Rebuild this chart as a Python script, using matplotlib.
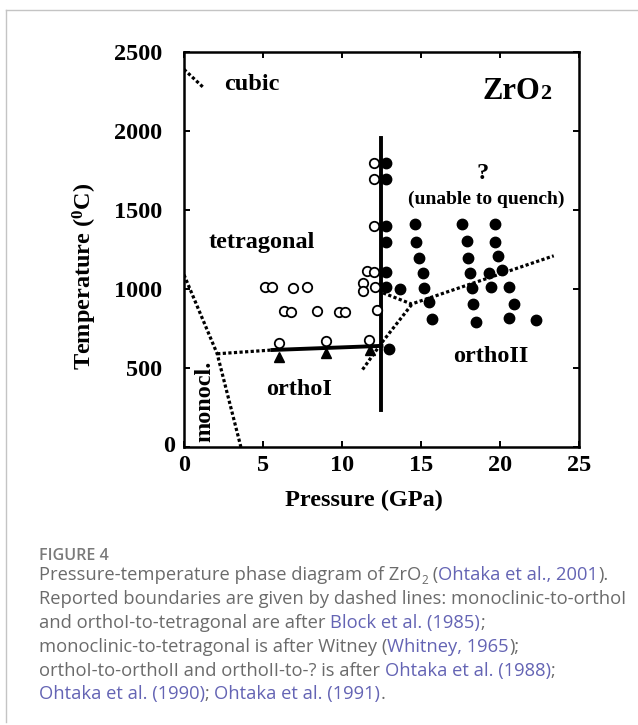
import matplotlib
matplotlib.use('Agg')
import matplotlib.pyplot as plt
from matplotlib.lines import Line2D
from matplotlib.transforms import ScaledTranslation

# ---------------- data ----------------
open_P = [5.1, 5.6, 6.9, 7.8, 6.3, 6.8, 8.4, 9.8, 10.2, 6.0, 9.0, 11.7,
          11.3, 11.3, 12.1, 12.2, 11.6, 12.0, 12.0, 12.0, 12.0]
open_T = [1013, 1013, 1006, 1013, 861, 854, 861, 854, 854, 658, 671, 677,
          1038, 987, 1013, 867, 1114, 1108, 1797, 1696, 1399]

filled_P = [12.8, 12.8, 12.8, 12.8, 12.8, 12.8, 13.0, 13.7,
            14.6, 14.7, 14.9, 15.1, 15.2, 15.5, 15.7,
            17.6, 17.9, 18.0, 18.1, 18.2, 18.3, 18.5,
            19.7, 19.7, 19.9, 19.3, 20.1, 19.4, 20.6, 20.9, 20.6, 22.3]
filled_T = [1797, 1696, 1400, 1297, 1110, 1010, 620, 1003,
            1411, 1297, 1196, 1101, 1006, 918, 810,
            1411, 1304, 1196, 1101, 1006, 905, 791,
            1411, 1297, 1209, 1101, 1120, 1013, 1013, 905, 816, 804]

tri_P = [6.0, 9.0, 11.8]
tri_T = [570, 595, 614]

# solid boundaries
ortho1_tet_P = [5.6, 12.5]
ortho1_tet_T = [614, 640]
vert_P = [12.5, 12.5]
vert_T = [234, 1955]

# dotted (reported) boundaries
cubic_P = [0.0, 1.2]
cubic_T = [2390, 2278]
mono_tet_P = [0.0, 2.1, 3.6]
mono_tet_T = [1090, 590, 0]
mono_o1_P = [2.1, 5.6]
mono_o1_T = [590, 614]
o1_o2_P = [11.3, 12.5, 14.4]
o1_o2_T = [490, 658, 900]
o2_q_P = [12.6, 14.4, 23.4]
o2_q_T = [975, 905, 1210]

x_ticks = [0, 5, 10, 15, 20, 25]
y_ticks = [0, 500, 1000, 1500, 2000, 2500]

phase_labels = ["cubic", "tetragonal", "orthoI", "orthoII", "monocl."]
phase_P = [4.3, 4.95, 7.3, 19.4, 1.33]
phase_T = [2297, 1297, 361, 570, 290]

# ---------------- style ----------------
plt.rcParams['font.family'] = ['Liberation Serif', 'DejaVu Serif']
plt.rcParams['font.weight'] = 'bold'
plt.rcParams['mathtext.fontset'] = 'custom'
plt.rcParams['mathtext.rm'] = 'Liberation Serif:bold'
plt.rcParams['mathtext.bf'] = 'Liberation Serif:bold'
plt.rcParams['mathtext.it'] = 'Liberation Serif:bold'

W, H = 638, 725
fig = plt.figure(figsize=(W / 100, H / 100), dpi=100)
ax = fig.add_axes([184 / W, 1 - 447 / H, 395 / W, 395 / H])

FS = 17.5
dot = dict(color='black', lw=2.3, linestyle=(0, (1, 0.75)), dash_capstyle='butt')
for px, ty in [(cubic_P, cubic_T), (mono_tet_P, mono_tet_T), (mono_o1_P, mono_o1_T),
               (o1_o2_P, o1_o2_T), (o2_q_P, o2_q_T)]:
    ax.plot(px, ty, **dot, zorder=2)

ax.plot(ortho1_tet_P, ortho1_tet_T, color='black', lw=2.8, zorder=3)
ax.plot(vert_P, vert_T, color='black', lw=2.8, zorder=3)

ax.plot(open_P, open_T, 'o', ms=6.8, mfc='white', mec='black', mew=1.3, ls='none', zorder=4)
ax.plot(filled_P, filled_T, 'o', ms=7.5, color='black', ls='none', zorder=4)
ax.plot(tri_P, tri_T, '^', ms=7, color='black', ls='none', zorder=4)

ax.set_xlim(0, 25)
ax.set_ylim(0, 2500)
ax.set_xticks(x_ticks)
ax.set_yticks(y_ticks)
ax.set_xticklabels([str(v) for v in x_ticks])
ax.set_yticklabels([str(v) for v in y_ticks])
ax.tick_params(direction='in', length=4.5, width=1.4, labelsize=FS, top=True, right=True,
               labeltop=False, labelright=False)
ax.tick_params(axis='y', pad=16)
ax.tick_params(axis='x', pad=5.5)
for s in ax.spines.values():
    s.set_linewidth(1.8)
# y=0 label sits closer to the axis in the original
lbl0 = ax.get_yticklabels()[0]
lbl0.set_transform(lbl0.get_transform() + ScaledTranslation(0.13, 0.03, fig.dpi_scale_trans))

ax.set_xlabel("Pressure (GPa)", fontsize=FS, fontweight='bold', va='center')
ax.xaxis.set_label_coords((364 - 184) / 395, (447 - 500) / 395)
ax.set_ylabel("Temperature ($^{0}$C)", fontsize=FS, fontweight='bold', va='center')
ax.yaxis.set_label_coords((85 - 184) / 395, (447 - 276) / 395)

for lab, px, ty in zip(phase_labels, phase_P, phase_T):
    rot = 90 if lab == "monocl." else 0
    ax.text(px, ty, lab, fontsize=FS, fontweight='bold', ha='center', va='center',
            rotation=rot)
ax.text(18.9, 1734, "?", fontsize=FS, fontweight='bold', ha='center', va='center')
ax.text(19.1, 1570, "(unable to quench)", fontsize=14, fontweight='bold',
        ha='center', va='center')

renderer = fig.canvas.get_renderer()
t_zr = ax.text(18.9, 2200, "ZrO", fontsize=22, fontweight='bold', ha='left', va='baseline')
bb = t_zr.get_window_extent(renderer)
base_disp = ax.transData.transform((18.9, 2200))
ax.text(bb.x1, base_disp[1], "2", fontsize=16, fontweight='bold', ha='left', va='baseline',
        transform=None)

# ---------------- page frame ----------------
fig.add_artist(Line2D([6 / W, 1], [1 - 10 / H, 1 - 10 / H], transform=fig.transFigure,
                      color='#c4c4c4', lw=1.0))
fig.add_artist(Line2D([6 / W, 6 / W], [1 - 10 / H, 1 - 722 / H], transform=fig.transFigure,
                      color='#c4c4c4', lw=1.0))

# ---------------- caption ----------------
GRAY = '#6b6b6b'
BLUE = '#6464b4'
CAP_FONT = ['Open Sans', 'DejaVu Sans']

probe = fig.text(0, 0, "Reported boundaries are given by dashed lines: monoclinic-to-orthoI",
                 fontsize=11, family=CAP_FONT, fontweight='normal')
wprobe = probe.get_window_extent(renderer).width
probe.remove()
CFS = 11 * 589 / wprobe

fig.text(39 / W, 1 - 560 / H, "FIGURE 4", fontsize=CFS * 0.88, family=CAP_FONT,
         fontweight='semibold', color='#7a7a7a', va='baseline', ha='left')

caption = [
    [("Pressure-temperature phase diagram of ZrO", GRAY, 0), ("2", GRAY, 1), (" (", GRAY, 0),
     ("Ohtaka et al., 2001", BLUE, 0), (").", GRAY, 0)],
    [("Reported boundaries are given by dashed lines: monoclinic-to-orthoI", GRAY, 0)],
    [("and orthoI-to-tetragonal are after ", GRAY, 0), ("Block et al. (1985)", BLUE, 0),
     (";", GRAY, 0)],
    [("monoclinic-to-tetragonal is after Witney (", GRAY, 0), ("Whitney, 1965", BLUE, 0),
     (");", GRAY, 0)],
    [("orthoI-to-orthoII and orthoII-to-? is after ", GRAY, 0),
     ("Ohtaka et al. (1988)", BLUE, 0), (";", GRAY, 0)],
    [("Ohtaka et al. (1990)", BLUE, 0), ("; ", GRAY, 0), ("Ohtaka et al. (1991)", BLUE, 0),
     (".", GRAY, 0)],
]
baselines = [580, 604, 628, 652, 676, 699]
for line, yb in zip(caption, baselines):
    x = 39.0
    for seg, col, sub in line:
        fs = CFS * 0.65 if sub else CFS
        yy = yb + 4 if sub else yb
        t = fig.text(x / W, 1 - yy / H, seg, fontsize=fs, family=CAP_FONT,
                     fontweight='normal', color=col, va='baseline', ha='left')
        x += t.get_window_extent(renderer).width

fig.savefig("out.png", dpi=100)
